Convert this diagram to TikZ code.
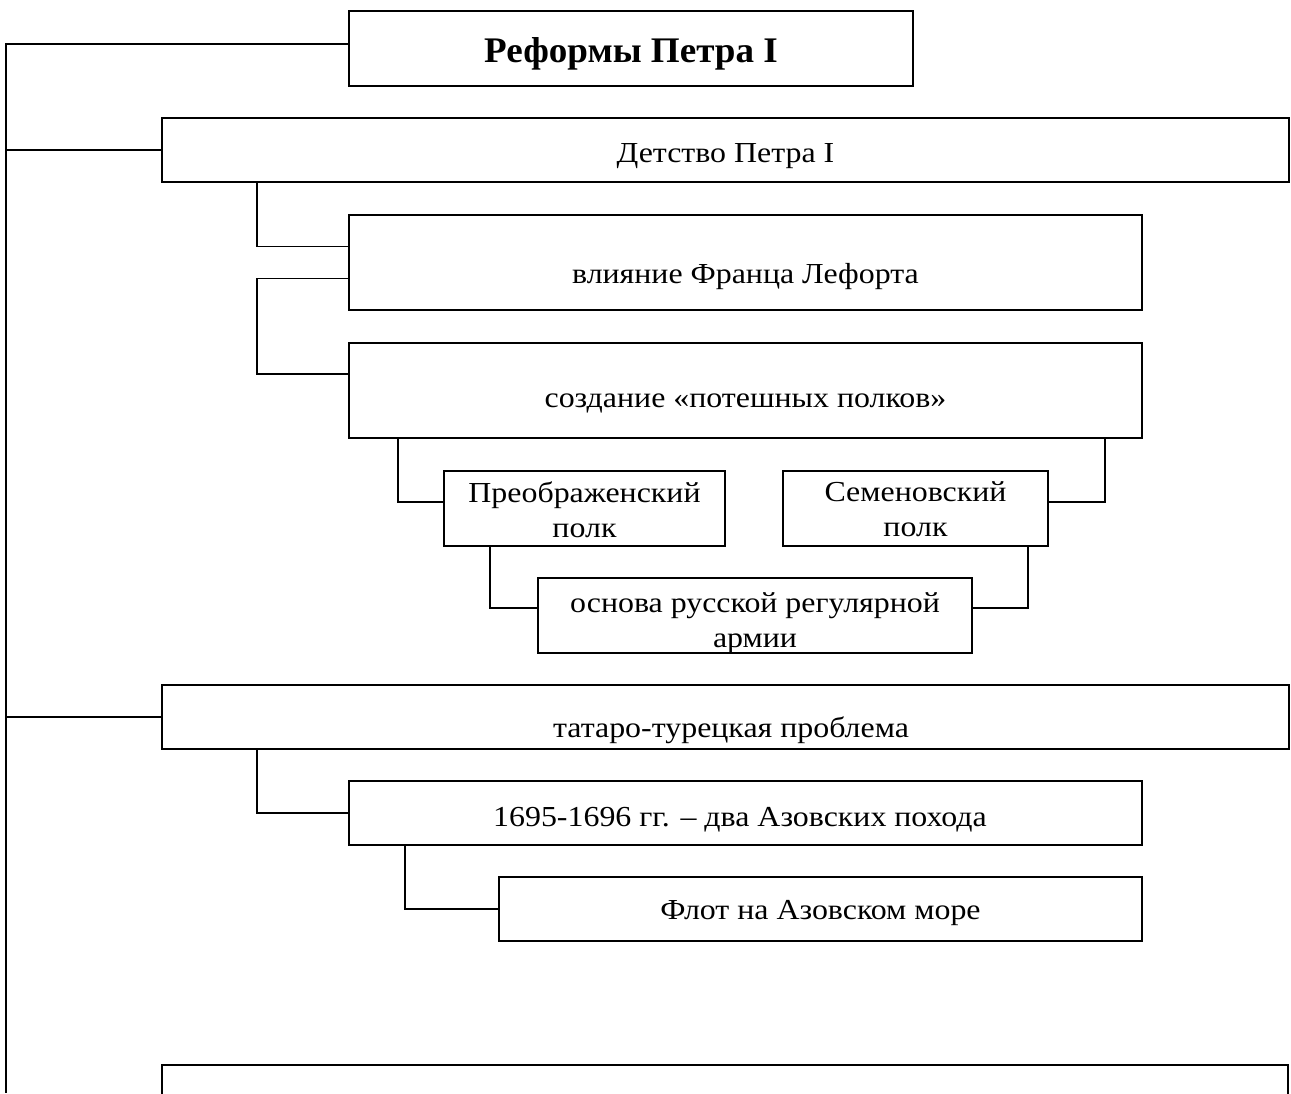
\documentclass[tikz,border=0pt]{standalone}
\usepackage{fontspec}
\setmainfont{Liberation Serif}
\newfontfamily\bodyfont[FakeStretch=1.10]{Liberation Serif}
\newfontfamily\titlefont[FakeStretch=1.03]{Liberation Serif}
\begin{document}
\begin{tikzpicture}[x=1pt,y=-1pt,
  box/.style={draw, line width=1.8pt, inner sep=0pt, rectangle},
  conn/.style={line width=1.8pt},
  txt/.style={inner sep=0pt, anchor=base, align=center, font=\bodyfont\fontsize{29}{35}\selectfont},
  ttl/.style={inner sep=0pt, anchor=base, font=\titlefont\fontsize{36}{42}\selectfont\bfseries}]
\useasboundingbox (0,0) rectangle (1291,1093);
\clip (0,0) rectangle (1291,1093);
% boxes
\node[box, minimum width=564pt, minimum height=75pt] (title) at (631,48.5) {};
\node[box, minimum width=1127pt, minimum height=64pt] (det) at (725.5,150) {};
\node[box, minimum width=793pt, minimum height=95pt] (vl) at (745.5,262.5) {};
\node[box, minimum width=793pt, minimum height=95pt] (sz) at (745.5,390.5) {};
\node[box, minimum width=281pt, minimum height=75pt] (pr) at (584.5,508.5) {};
\node[box, minimum width=265pt, minimum height=75pt] (sm) at (915.5,508.5) {};
\node[box, minimum width=434pt, minimum height=75pt] (os) at (755,615.5) {};
\node[box, minimum width=1127pt, minimum height=64pt] (tt) at (725.5,717) {};
\node[box, minimum width=793pt, minimum height=64pt] (az) at (745.5,813) {};
\node[box, minimum width=643pt, minimum height=64pt] (fl) at (820.5,909) {};
\node[box, minimum width=1126pt, minimum height=80pt] (last) at (725,1105) {};
% texts
\node[ttl] (title-t) at (631,62) {Реформы Петра I};
\node[txt] (det-t) at (725.5,162) {Детство Петра I};
\node[txt] (vl-t) at (745.5,283) {влияние Франца Лефорта};
\node[txt] (sz-t) at (745.5,407) {создание «потешных полков»};
\node[txt] (pr-t) at (584.5,537) {Преображенский\\полк};
\node[txt] (sm-t) at (915.5,536) {Семеновский\\полк};
\node[txt] (os-t) at (755,647) {основа русской регулярной\\армии};
\node[txt] (tt-t) at (731,737) {татаро-турецкая проблема};
\node[txt] (az-t) at (740,826) {1695-1696 гг. – два Азовских похода};
\node[txt] (fl-t) at (820.5,919) {Флот на Азовском море};
% helper coordinates
\coordinate (trunk) at (6,0);
\coordinate (bottom) at (0,1093);
\coordinate (c1) at (257,0);
\coordinate (c2) at (398,0);
\coordinate (c3) at (1105,0);
\coordinate (c4) at (490,0);
\coordinate (c5) at (1028,0);
\coordinate (c6) at (405,0);
\coordinate (titleW) at ([yshift=4.5pt]title.west);
\coordinate (vlA) at ([yshift=16pt]vl.west);
\coordinate (vlB) at ([yshift=-16pt]vl.west);
\coordinate (szA) at ([yshift=16.5pt]sz.west);
\coordinate (prA) at ([yshift=6.5pt]pr.west);
\coordinate (smA) at ([yshift=6.5pt]sm.east);
\coordinate (osA) at ([yshift=7.5pt]os.west);
\coordinate (osB) at ([yshift=7.5pt]os.east);
% connectors
\draw[conn] (titleW) -- (titleW -| trunk) -- (trunk |- bottom);
\draw[conn] (det.west) -- (det.west -| trunk);
\draw[conn] (tt.west) -- (tt.west -| trunk);
\draw[conn] (det.south -| c1) |- (vlA);
\draw[conn] (vlB) -- (vlB -| c1) |- (szA);
\draw[conn] (sz.south -| c2) |- (prA);
\draw[conn] (sz.south -| c3) |- (smA);
\draw[conn] (pr.south -| c4) |- (osA);
\draw[conn] (sm.south -| c5) |- (osB);
\draw[conn] (tt.south -| c1) |- (az.west);
\draw[conn] (az.south -| c6) |- (fl.west);
\end{tikzpicture}
\end{document}
